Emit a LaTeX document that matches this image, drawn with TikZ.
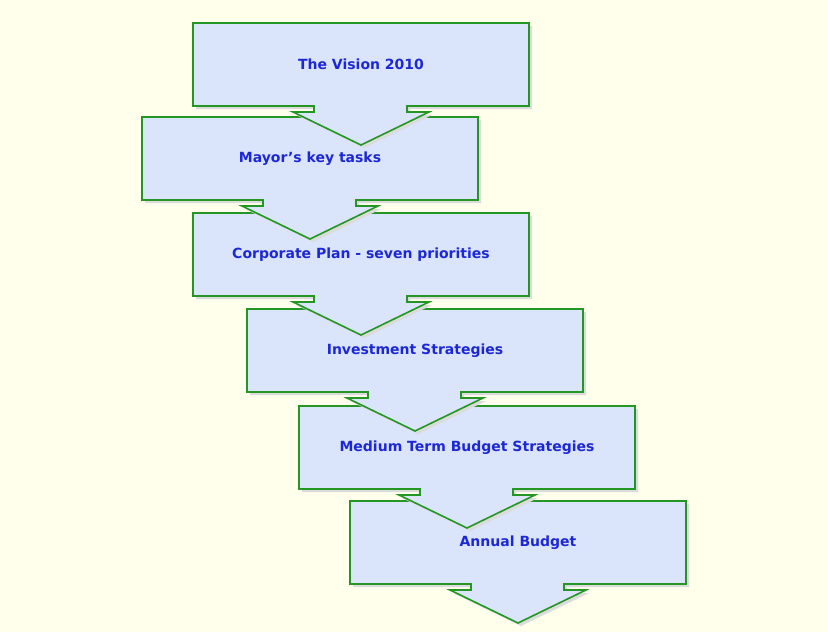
\documentclass[tikz,border=0pt]{standalone}
\usepackage{fontspec}
\setmainfont{DejaVu Sans}
\definecolor{paper}{RGB}{255,255,236}
\definecolor{stagefill}{RGB}{218,228,250}
\definecolor{stageline}{RGB}{36,150,36}
\definecolor{stageink}{RGB}{28,40,215}
% box with the arrow under it, in local pixel units
\newcommand{\stagepath}{(0,0) -- (336,0) -- (336,83) -- (214,83) -- (214,89) -- (236,89)
   -- (168,122) -- (100,89) -- (121,89) -- (121,83) -- (0,83) -- cycle}

\begin{document}
\begin{tikzpicture}[x=1pt,y=-1pt,
   stage/.style={fill=stagefill,draw=stageline,line width=1.6pt,line join=miter},
   shade/.style={fill=black!14},
   stagelbl/.style={text=stageink,inner sep=0pt,font=\fontsize{14}{16}\selectfont\bfseries}]
   \fill[paper] (0,0) rectangle (828,632);
   \useasboundingbox (0,0) rectangle (828,632);
   % drawn from the last stage up, so each arrow lies over the next box
   \foreach \l/\t/\n/\txt in {350/501/annual/Annual Budget,
                              299/406/medium/Medium Term Budget Strategies,
                              247/309/invest/Investment Strategies,
                              193/213/corporate/Corporate Plan - seven priorities,
                              142/117/mayor/Mayor's key tasks,
                              193/23/vision/The Vision 2010} {
    \begin{scope}[shift={(\l,\t)}]
     \fill[shade,shift={(3,3)}] \stagepath;
     \filldraw[stage] \stagepath;
     \node[stagelbl] (\n) at (168,41.5) {\txt};
    \end{scope}
   }
  \end{tikzpicture}
\end{document}
